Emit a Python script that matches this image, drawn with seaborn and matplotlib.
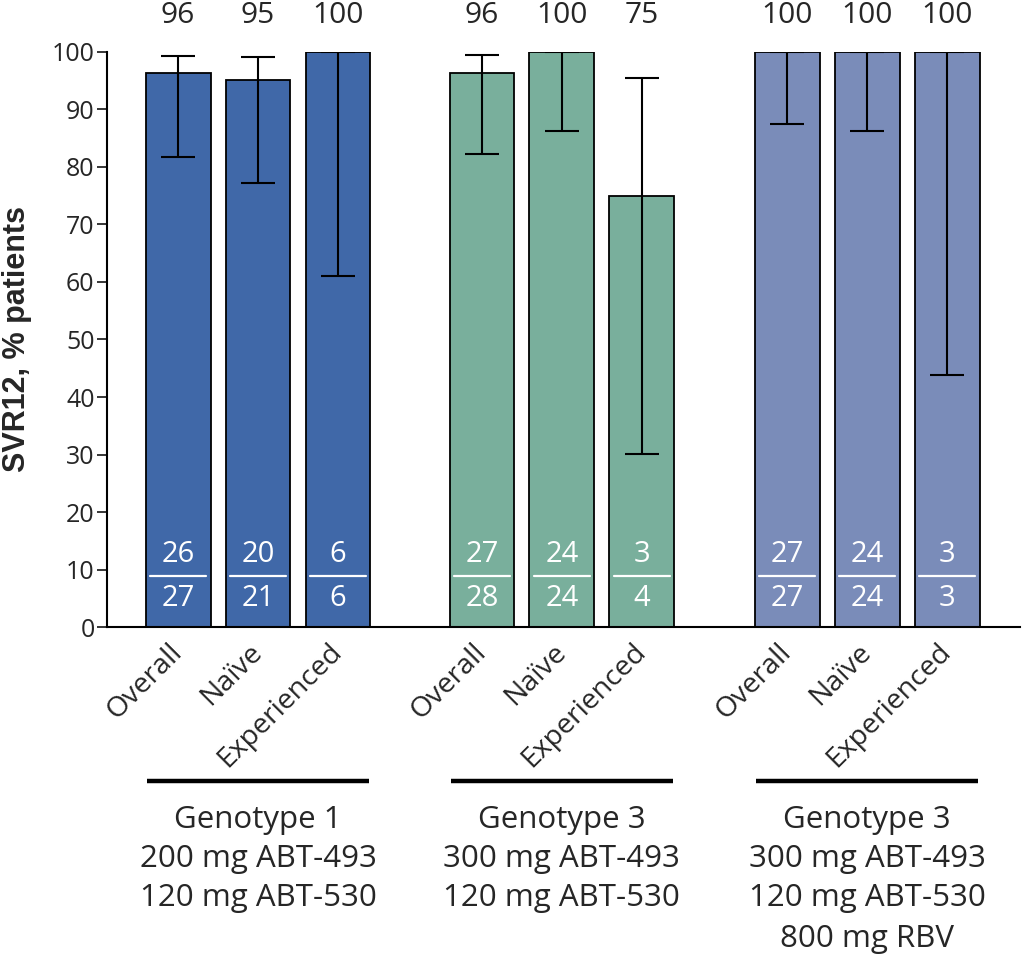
import numpy as np
import pandas as pd
import matplotlib
matplotlib.use("Agg")
import matplotlib.pyplot as plt
import matplotlib.transforms as mtransforms
import seaborn as sns

# ---- data ----
arms = ["Overall", "Naïve", "Experienced"] * 3
groups = ["G1", "G1", "G1", "G3a", "G3a", "G3a", "G3b", "G3b", "G3b"]
svr = [96.3, 95.2, 100, 96.4, 100, 75, 100, 100, 100]
ci_low = [81.7, 77.3, 61.0, 82.3, 86.2, 30.1, 87.5, 86.2, 43.9]
ci_high = [99.3, 99.2, 100, 99.4, 100, 95.5, 100, 100, 100]
top_labels = ["96", "95", "100", "96", "100", "75", "100", "100", "100"]
numerators = ["26", "20", "6", "27", "24", "3", "27", "24", "3"]
denominators = ["27", "21", "6", "28", "24", "4", "27", "24", "3"]
group_text = [
    ["Genotype 1", "200 mg ABT-493", "120 mg ABT-530"],
    ["Genotype 3", "300 mg ABT-493", "120 mg ABT-530"],
    ["Genotype 3", "300 mg ABT-493", "120 mg ABT-530", "800 mg RBV"],
]
group_colors = {"G1": "#4068a8", "G3a": "#79af9c", "G3b": "#7a8cb9"}

# bar positions (three clusters with a gap between them)
positions = [0, 1, 2, 3.8, 4.8, 5.8, 7.62, 8.62, 9.62]

df = pd.DataFrame({"pos": positions, "svr": svr, "group": groups, "arm": arms})

sns.set_style("white")
plt.rcParams["font.family"] = ["Open Sans", "DejaVu Sans"]

fig = plt.figure(figsize=(10.24, 9.57), dpi=100)
ax = fig.add_axes([0.1045, 0.3448, 0.8915, 0.6009])

sns.barplot(data=df, x="pos", y="svr", hue="group", palette=group_colors,
            native_scale=True, width=0.81, dodge=False, legend=False,
            saturation=1, edgecolor="black", linewidth=1.3, errorbar=None, ax=ax)

svr_a = np.array(svr)
yerr = [svr_a - np.array(ci_low), np.array(ci_high) - svr_a]
ax.errorbar(positions, svr, yerr=yerr, fmt="none", ecolor="black",
            elinewidth=1.5, capsize=12, capthick=1.5, zorder=5)

ax.set_xlim(-0.89, 10.53)
ax.set_ylim(0, 100)
ax.set_yticks(range(0, 101, 10))
ax.tick_params(axis="y", labelsize=18, length=7, width=1.3, pad=2, direction="out", left=True)
ax.tick_params(axis="x", length=0, pad=8)
ax.set_xticks(positions)
ax.set_xticklabels(arms, rotation=45, ha="right", rotation_mode="anchor", fontsize=20.5)
shift = mtransforms.ScaledTranslation(-10 / 100, 0, fig.dpi_scale_trans)
for lab in ax.get_xticklabels():
    lab.set_transform(lab.get_transform() + shift)
ax.set_xlabel("")
ax.set_ylabel("SVR12, % patients", fontsize=22, fontweight="bold",
              family=["Liberation Sans", "DejaVu Sans"], labelpad=14)
sns.despine(ax=ax)
for s in ["left", "bottom"]:
    ax.spines[s].set_linewidth(1.5)
    ax.spines[s].set_color("black")

# value labels above plot
for x, t in zip(positions, top_labels):
    ax.text(x, 106.4, t, ha="center", va="center", fontsize=21.5, clip_on=False)

# n/N fractions inside bars
for x, n, d in zip(positions, numerators, denominators):
    ax.text(x, 12.6, n, ha="center", va="center", fontsize=21, color="white")
    ax.text(x, 4.9, d, ha="center", va="center", fontsize=21, color="white")
    ax.plot([x - 0.35, x + 0.35], [8.9, 8.9], color="white", lw=1.6)

# group brackets and descriptions
trans = mtransforms.blended_transform_factory(ax.transData, ax.transAxes)
line_y = [-0.336, -0.404, -0.472, -0.543]
for g in range(3):
    xs = positions[g * 3:(g + 1) * 3]
    ax.plot([xs[0] - 0.39, xs[-1] + 0.39], [-0.268, -0.268], color="black",
            lw=3.2, transform=trans, clip_on=False, solid_capstyle="butt")
    for i, line in enumerate(group_text[g]):
        ax.text(xs[1], line_y[i], line, ha="center", va="center", fontsize=22.5,
                transform=trans)

fig.savefig("out.png", dpi=100)
